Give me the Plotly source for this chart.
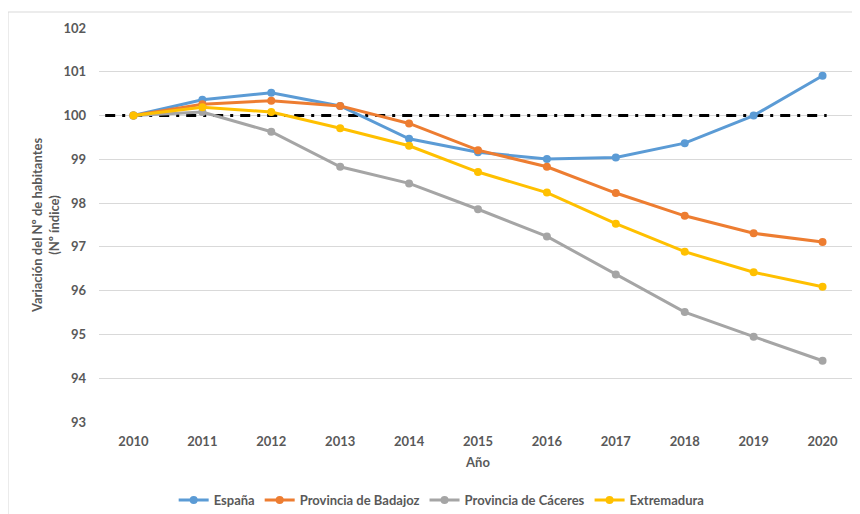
import plotly.graph_objects as go

years = [2010, 2011, 2012, 2013, 2014, 2015, 2016, 2017, 2018, 2019, 2020]
espana = [100.0, 100.36, 100.52, 100.22, 99.47, 99.16, 99.01, 99.04, 99.37, 100.0, 100.91]
badajoz = [100.0, 100.26, 100.34, 100.22, 99.82, 99.21, 98.83, 98.23, 97.71, 97.31, 97.11]
caceres = [100.0, 100.08, 99.63, 98.83, 98.45, 97.86, 97.24, 96.37, 95.51, 94.95, 94.40]
extremadura = [100.0, 100.19, 100.08, 99.71, 99.31, 98.71, 98.24, 97.53, 96.89, 96.42, 96.09]
ref_x = [2009.59, 2020.06]
ref_y = [100.0, 100.0]
y_ticks = [93, 94, 95, 96, 97, 98, 99, 100, 101, 102]

FONT = "Lato"
GREY = "#595959"

series = [
    ("España", espana, "#5B9BD5"),
    ("Provincia de Badajoz", badajoz, "#ED7D31"),
    ("Provincia de Cáceres", caceres, "#A5A5A5"),
    ("Extremadura", extremadura, "#FFC000"),
]

fig = go.Figure()
fig.add_trace(go.Scatter(
    x=ref_x, y=ref_y, mode="lines", showlegend=False, hoverinfo="skip",
    line=dict(color="black", width=3, dash="10px,7px,3px,7px"),
))
for name, vals, color in series:
    fig.add_trace(go.Scatter(
        x=years, y=vals, name=name, mode="lines+markers",
        line=dict(color=color, width=3),
        marker=dict(color=color, size=8, symbol="circle"),
    ))

fig.update_layout(
    width=852, height=506,
    margin=dict(l=91, r=3, t=20, b=92, autoexpand=False),
    paper_bgcolor="white", plot_bgcolor="white",
    font=dict(family=FONT, color=GREY, size=13),
    showlegend=True,
    legend=dict(
        orientation="h", xref="container", yref="container",
        x=0.509, xanchor="center", y=0.0277, yanchor="middle",
        font=dict(family=FONT, size=13, color=GREY, weight="bold"),
        itemwidth=30, tracegroupgap=0,
    ),
    shapes=[dict(
        type="rect", xref="paper", yref="paper",
        x0=-0.12, x1=1.02, y0=-0.3, y1=1.0406,
        line=dict(color="#D9D9D9", width=1), fillcolor="rgba(0,0,0,0)",
        layer="below",
    )],
)
fig.update_xaxes(
    range=[2009.5, 2020.5], tickvals=years, ticktext=[str(y) for y in years],
    showgrid=False, zeroline=False, showline=False,
    tickfont=dict(family=FONT, size=13, color=GREY, weight="bold"),
    ticklabelstandoff=10,
    title=dict(text="Año", font=dict(family=FONT, size=13, color=GREY, weight="bold"), standoff=9),
)
fig.update_yaxes(
    range=[93, 102], tickvals=y_ticks,
    showgrid=True, gridcolor="#D9D9D9", gridwidth=1, zeroline=False, showline=False,
    tickfont=dict(family=FONT, size=13, color=GREY, weight="bold"),
    ticklabelstandoff=12,
    title=dict(text="Variación del Nº de habitantes<br>(Nº índice)",
               font=dict(family=FONT, size=13, color=GREY, weight="bold"), standoff=0),
)

fig.write_html("out.html")
